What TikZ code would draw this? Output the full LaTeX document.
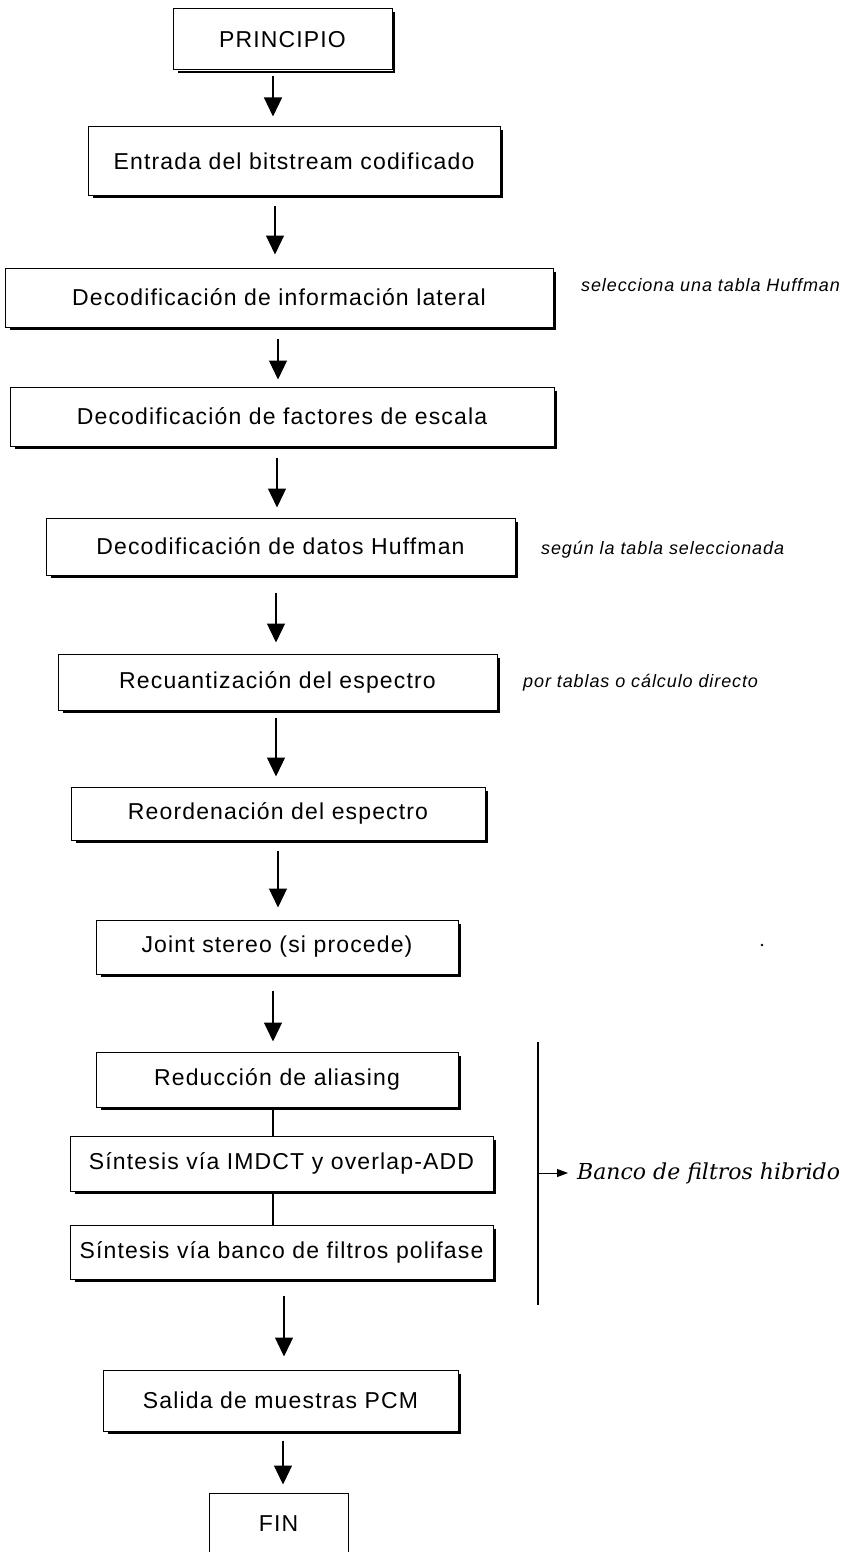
\documentclass[tikz,border=0pt]{standalone}
\usepackage{fontspec}
\setmainfont{Liberation Sans}
\newfontfamily\boxfont[LetterSpace=5]{Liberation Sans}
\newfontfamily\notefont[LetterSpace=5]{Liberation Sans}
\newfontfamily\bancofont{DejaVu Serif}
\usetikzlibrary{arrows.meta}
\begin{document}
\begin{tikzpicture}[x=1pt,y=-1pt,
  box/.style={draw, line width=1pt, inner sep=0pt, font={\boxfont\fontsize{23}{27}\selectfont}},
  arr/.style={line width=1.2pt, -{Triangle[width=18pt,length=19pt]}},
  link/.style={line width=1.2pt},
  note/.style={anchor=west, inner sep=0pt, font={\notefont\itshape\fontsize{18}{21}\selectfont}},
  banco/.style={anchor=west, inner sep=0pt, font={\bancofont\itshape\fontsize{22}{26}\selectfont}},
  shadowline/.style={line width=1.8pt}
]
\clip (0,0) rectangle (848,1552);
\fill[white] (0,0) rectangle (848,1552);

% boxes
\node[box, minimum width=219pt, minimum height=61pt] (p)  at (282.5,39.5)  {PRINCIPIO};
\node[box, minimum width=412pt, minimum height=68pt] (e)  at (294,161)     {Entrada del bitstream codificado};
\node[box, minimum width=548pt, minimum height=59pt] (dl) at (279,297.5)   {Decodificación de información lateral};
\node[box, minimum width=544pt, minimum height=59pt] (df) at (282,416.5)   {Decodificación de factores de escala};
\node[box, minimum width=469pt, minimum height=57pt] (dh) at (280.5,546.5) {Decodificación de datos Huffman};
\node[box, minimum width=439pt, minimum height=56pt] (rq) at (277.5,682)   {Recuantización del espectro};
\node[box, minimum width=414pt, minimum height=53pt] (ro) at (278,813.5)   {Reordenación del espectro};
\node[box, minimum width=362pt, minimum height=54pt] (js) at (277,947)     {Joint stereo (si procede)};
\node[box, minimum width=362pt, minimum height=55pt] (ra) at (277,1079.5)  {Reducción de aliasing};
\node[box, minimum width=423pt, minimum height=55pt] (si) at (281.5,1163.5){Síntesis vía IMDCT y overlap-ADD};
\node[box, minimum width=423pt, minimum height=54pt] (sb) at (281.5,1252)  {Síntesis vía banco de filtros polifase};
\node[box, minimum width=355pt, minimum height=61pt] (sa) at (280.5,1400.5){Salida de muestras PCM};
\node[box, minimum width=139pt, minimum height=70pt, text depth=8pt] (fin) at (278.5,1528) {FIN};

% drop shadows
\foreach \n in {p,e,dl,df,dh,rq,ro,js,ra,si,sb,sa}{
  \draw[shadowline] ([xshift=1.4pt,yshift=-4pt]\n.north east) -- ([xshift=1.4pt,yshift=-1.2pt]\n.south east) -- ([xshift=5pt,yshift=-1.2pt]\n.south west);
}

% arrow columns
\coordinate (c1) at (273,0);
\coordinate (c2) at (275,0);
\coordinate (c3) at (278,0);
\coordinate (c4) at (277,0);
\coordinate (c5) at (276,0);
\coordinate (c6) at (276,0);
\coordinate (c7) at (278,0);
\coordinate (c8) at (273,0);
\coordinate (c9) at (284,0);
\coordinate (c10) at (283,0);

\draw[arr, shorten <=6pt,  shorten >=10pt] (p.south -| c1)  -- (e.north -| c1);
\draw[arr, shorten <=10pt, shorten >=13pt] (e.south -| c2)  -- (dl.north -| c2);
\draw[arr, shorten <=11pt, shorten >=7pt]  (dl.south -| c3) -- (df.north -| c3);
\draw[arr, shorten <=11pt, shorten >=10pt] (df.south -| c4) -- (dh.north -| c4);
\draw[arr, shorten <=17pt, shorten >=11pt] (dh.south -| c5) -- (rq.north -| c5);
\draw[arr, shorten <=7pt,  shorten >=10pt] (rq.south -| c6) -- (ro.north -| c6);
\draw[arr, shorten <=10pt, shorten >=12pt] (ro.south -| c7) -- (js.north -| c7);
\draw[arr, shorten <=16pt, shorten >=10pt] (js.south -| c8) -- (ra.north -| c8);
\draw[link] (ra.south -| c8) -- (si.north -| c8);
\draw[link] (si.south -| c8) -- (sb.north -| c8);
\draw[arr, shorten <=16pt, shorten >=13pt] (sb.south -| c9) -- (sa.north -| c9);
\draw[arr, shorten <=9pt,  shorten >=8pt]  (sa.south -| c10) -- (fin.north -| c10);

% side notes
\node[note] (n1) at (581,285) {selecciona una tabla Huffman};
\node[note] (n2) at (541,550) {según la tabla seleccionada};
\node[note] (n3) at (523,683) {por tablas o cálculo directo};

% stray dot
\fill (762,945) circle (1.3pt);

% hybrid filter bank bracket
\coordinate (bt) at (538,1042);
\coordinate (bb) at (538,1305);
\coordinate (bm) at (538,1173);
\draw[line width=1.3pt] (bt) -- (bb);
\node[banco] (bn) at (577,1173) {Banco de filtros hibrido};
\draw[line width=1pt, -{Triangle[width=8pt,length=11pt]}, shorten >=9pt] (bm) -- (bn.west);
\end{tikzpicture}
\end{document}
